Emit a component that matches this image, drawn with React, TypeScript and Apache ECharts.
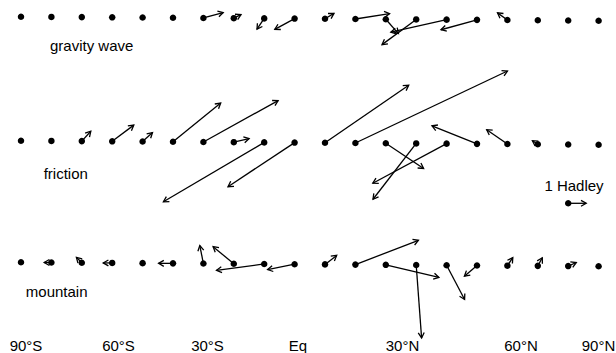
import React, { useEffect, useRef } from "react";
import * as echarts from "echarts";

// Dot index along the latitude grid (20 points from 90°S to 90°N)
const dotIndex = [0, 1, 2, 3, 4, 5, 6, 7, 8, 9, 10, 11, 12, 13, 14, 15, 16, 17, 18, 19];

const rowNames = ["gravity wave", "friction", "mountain"];

// Vector components in Hadley units (u: eastward/right, v: up)
const gravityU = [0, 0, 0, 0, 0, 0, 1.1, 0.4, -0.4, -1.1, 0.5, 1.9, 0.7, -1.9, -3.1, -2.0, -0.55, 0, 0, 0];
const gravityV = [0, 0, 0, 0, 0, 0, 0.3, 0.2, -0.6, -0.6, 0.3, 0.3, -0.8, -1.4, -0.7, -0.55, 0.4, 0, 0, 0];
const frictionU = [0, 0, 0.5, 1.2, 0.55, 2.65, 4.15, 0.85, -5.6, -3.7, 4.65, 8.45, 2.1, -2.4, -4.1, -2.5, -1.15, -0.3, 0, 0];
const frictionV = [0, 0, 0.55, 0.9, 0.5, 2.15, 2.3, 0.2, -3.3, -2.45, 3.2, 4.0, -1.4, -3.1, -2.2, 1.0, 0.8, 0.2, 0, 0];
const mountainU = [0, -0.4, -0.3, -0.5, 0, -0.8, -0.2, -1.15, -2.65, -1.5, 0.65, 3.5, 2.95, 0.3, 1.0, -0.7, 0.3, 0.25, 0.45, 0];
const mountainV = [0, 0, 0.3, 0, 0, 0, 1.0, 0.95, -0.35, -0.3, 0.5, 1.35, -0.7, -4.05, -1.9, -0.6, 0.45, 0.45, 0.2, 0];

const tickLabels = ["90°S", "60°S", "30°S", "Eq", "30°N", "60°N", "90°N"];
const keyLabel = "1 Hadley";
const keyU = 1;
const keyV = 0;

// ---- layout (pixels) ----
const W = 616;
const H = 353;
const rowBaseY = [16.7, 140.7, 262.3];
const rowTilt = 0.21;
const pxPerHadley = 18;
const tickLabelX = [26, 118.5, 207.5, 298, 402.5, 521, 598.5];
const tickLabelY = 345.3;
const rowLabelPos = [
  [91.7, 45],
  [65.8, 173],
  [56.7, 291.5],
];
const keyIndex = 18;
const keyY = 203.3;
const keyLabelPos = [574, 185];
const FONT = "'Liberation Sans', Arial, Helvetica, sans-serif";

const rowsU = [gravityU, frictionU, mountainU];
const rowsV = [gravityV, frictionV, mountainV];

export default function App() {
  const ref = useRef<HTMLDivElement>(null);

  useEffect(() => {
    if (!ref.current) return;
    const chart = echarts.init(ref.current, null, { renderer: "svg" });

    const dots: number[][] = [];
    const arrows: number[][] = [];
    rowsU.forEach((us, r) => {
      dotIndex.forEach((i, k) => {
        const y = rowBaseY[r] + i * rowTilt;
        dots.push([i, y]);
        arrows.push([i, y, us[k], rowsV[r][k]]);
      });
    });
    dots.push([keyIndex, keyY]);
    arrows.push([keyIndex, keyY, keyU, keyV]);

    const renderArrow = (_params: any, api: any) => {
      const i = api.value(0);
      const y = api.value(1);
      const u = api.value(2);
      const v = api.value(3);
      const p = api.coord([i, y]);
      const tx = p[0] + u * pxPerHadley;
      const ty = p[1] - v * pxPerHadley;
      const len = Math.hypot(tx - p[0], ty - p[1]);
      if (len < 0.5) return { type: "group", children: [] };
      const ang = Math.atan2(ty - p[1], tx - p[0]);
      const hl = 6;
      const ha = 0.52;
      const h1 = [tx - hl * Math.cos(ang - ha), ty - hl * Math.sin(ang - ha)];
      const h2 = [tx - hl * Math.cos(ang + ha), ty - hl * Math.sin(ang + ha)];
      const style = { stroke: "#000", lineWidth: 1.3, fill: "none" };
      return {
        type: "group",
        children: [
          { type: "line", shape: { x1: p[0], y1: p[1], x2: tx, y2: ty }, style },
          { type: "polyline", shape: { points: [h1, [tx, ty], h2] }, style },
        ],
      };
    };

    const textStyle = (t: string, x: number, y: number) => ({
      type: "text",
      x,
      y,
      style: {
        text: t,
        fill: "#000",
        font: `15px ${FONT}`,
        align: "center",
        verticalAlign: "middle",
      },
    });

    const graphics: any[] = [];
    rowNames.forEach((n, r) => graphics.push(textStyle(n, rowLabelPos[r][0], rowLabelPos[r][1])));
    tickLabels.forEach((t, k) => graphics.push(textStyle(t, tickLabelX[k], tickLabelY)));
    graphics.push(textStyle(keyLabel, keyLabelPos[0], keyLabelPos[1]));

    chart.setOption({
      animation: false,
      backgroundColor: "#fff",
      grid: { left: 21, right: W - 21 - 19 * 30.4, top: 0, bottom: 0 },
      xAxis: { type: "value", min: 0, max: 19, show: false },
      yAxis: { type: "value", min: 0, max: H, inverse: true, show: false },
      series: [
        {
          type: "custom",
          renderItem: renderArrow,
          data: arrows,
          silent: true,
          clip: false,
        },
        {
          type: "scatter",
          data: dots,
          symbol: "circle",
          symbolSize: 6.5,
          itemStyle: { color: "#000", opacity: 1 },
          silent: true,
        },
      ],
      graphic: graphics,
    });

    return () => chart.dispose();
  }, []);

  return (
    <div
      ref={ref}
      style={{ position: "fixed", left: 0, top: 0, width: W, height: H, background: "#fff" }}
    />
  );
}
